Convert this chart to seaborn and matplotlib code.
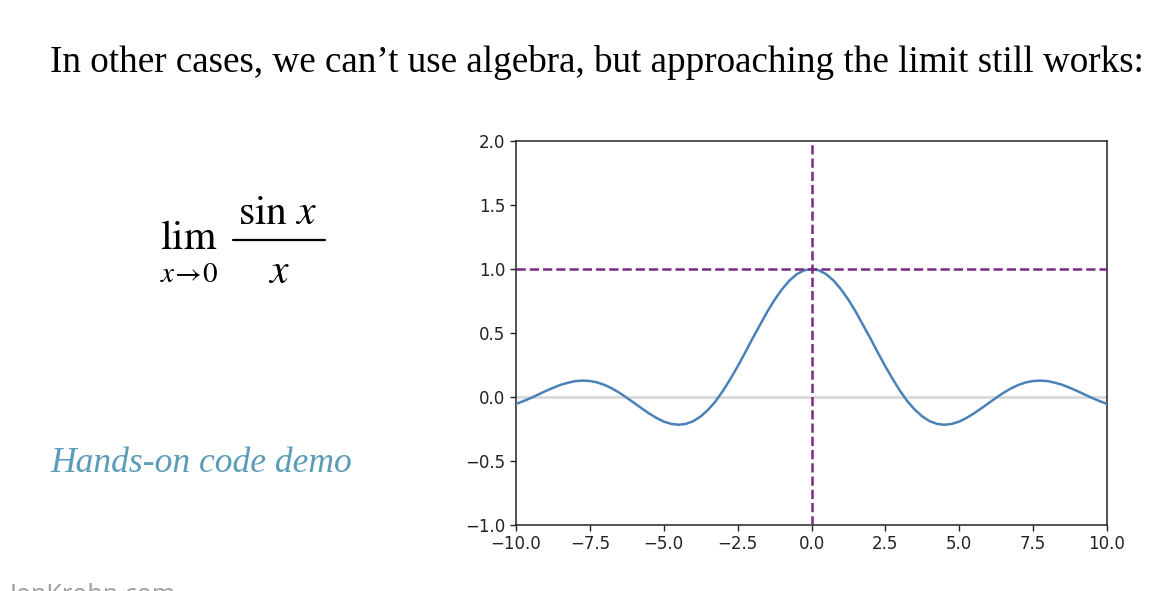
import numpy as np
import pandas as pd
import matplotlib
matplotlib.use("Agg")
import matplotlib.pyplot as plt
import seaborn as sns

x_vals = [-10.0, -9.75, -9.5, -9.25, -9.0, -8.75, -8.5, -8.25, -8.0, -7.75,
          -7.5, -7.25, -7.0, -6.75, -6.5, -6.25, -6.0, -5.75, -5.5, -5.25,
          -5.0, -4.75, -4.5, -4.25, -4.0, -3.75, -3.5, -3.25, -3.0, -2.75,
          -2.5, -2.25, -2.0, -1.75, -1.5, -1.25, -1.0, -0.75, -0.5, -0.25,
          0.0, 0.25, 0.5, 0.75, 1.0, 1.25, 1.5, 1.75, 2.0, 2.25,
          2.5, 2.75, 3.0, 3.25, 3.5, 3.75, 4.0, 4.25, 4.5, 4.75,
          5.0, 5.25, 5.5, 5.75, 6.0, 6.25, 6.5, 6.75, 7.0, 7.25,
          7.5, 7.75, 8.0, 8.25, 8.5, 8.75, 9.0, 9.25, 9.5, 9.75, 10.0]
y_vals = [-0.054, -0.032, -0.008, 0.019, 0.046, 0.071, 0.094, 0.111, 0.124, 0.128,
          0.125, 0.114, 0.094, 0.067, 0.033, -0.006, -0.047, -0.088, -0.128, -0.163,
          -0.192, -0.210, -0.217, -0.210, -0.189, -0.152, -0.100, -0.035, 0.047, 0.139,
          0.239, 0.345, 0.455, 0.560, 0.665, 0.759, 0.841, 0.909, 0.959, 0.990,
          1.000, 0.990, 0.959, 0.909, 0.841, 0.759, 0.665, 0.560, 0.455, 0.345,
          0.239, 0.139, 0.047, -0.035, -0.100, -0.152, -0.189, -0.210, -0.217, -0.210,
          -0.192, -0.163, -0.128, -0.088, -0.047, -0.006, 0.033, 0.067, 0.094, 0.114,
          0.125, 0.128, 0.124, 0.111, 0.094, 0.071, 0.046, 0.019, -0.008, -0.032, -0.054]
x_ticks = [-10.0, -7.5, -5.0, -2.5, 0.0, 2.5, 5.0, 7.5, 10.0]
y_ticks = [-1.0, -0.5, 0.0, 0.5, 1.0, 1.5, 2.0]
limit_x = 0.0
limit_y = 1.0

title = "In other cases, we can\u2019t use algebra, but approaching the limit still works:"
demo_text = "Hands-on code demo"
site_text = "JonKrohn.com"

sns.set_style("ticks")
plt.rcParams['mathtext.fontset'] = 'stix'

df = pd.DataFrame({'x': x_vals, 'y': y_vals})

W, H = 1176, 591
fig = plt.figure(figsize=(W / 100, H / 100), dpi=100)
ax = fig.add_axes([516 / W, 1 - 525 / H, 591 / W, 384 / H])

ax.axhline(y=0, color='#d9d9d9', linewidth=2, zorder=1)
sns.lineplot(data=df, x='x', y='y', ax=ax, color='#4a82b8', linewidth=1.8, zorder=3)
ax.axvline(x=limit_x, color='#7b2a86', linestyle='--', linewidth=1.8, zorder=4)
ax.axhline(y=limit_y, color='#7b2a86', linestyle='--', linewidth=1.8, zorder=4)

ax.set_xlim(-10, 10)
ax.set_ylim(-1, 2)
ax.set_xticks(x_ticks)
ax.set_yticks(y_ticks)
ax.set_xticklabels([f"{t:.1f}".replace('-', '\u2212') for t in x_ticks])
ax.set_yticklabels([f"{t:.1f}".replace('-', '\u2212') for t in y_ticks])
ax.set_xlabel('')
ax.set_ylabel('')
ax.tick_params(axis='both', labelsize=12, length=4, width=1, colors='#222222')
for s in ax.spines.values():
    s.set_visible(True)
    s.set_color('#222222')
    s.set_linewidth(1.1)

# slide title
fig.text(50 / W, 1 - 62 / H, title, fontsize=26.7, family='Liberation Serif',
         va='center', ha='left', color='black')

# the limit, set piece by piece so the fraction is display size
fig.text(189 / W, 1 - 237 / H, r'$\mathrm{lim}$', fontsize=30,
         ha='center', va='center', color='black')
fig.text(189 / W, 1 - 274 / H, r'$x\!\rightarrow\!0$', fontsize=21,
         ha='center', va='center', color='black')
fig.text(278 / W, 1 - 212 / H, r'$\mathrm{sin}\ \mathit{x}$', fontsize=30,
         ha='center', va='center', color='black')
fig.text(279 / W, 1 - 271 / H, r'$\mathit{x}$', fontsize=30,
         ha='center', va='center', color='black')
fig.add_artist(plt.Line2D([233 / W, 325 / W], [1 - 240 / H, 1 - 240 / H],
                          color='black', linewidth=1.6))

fig.text(50 / W, 1 - 463 / H, demo_text, fontsize=25.6, family='Liberation Serif',
         style='italic', va='center', ha='left', color='#5b9db7')
fig.text(10 / W, 1 - 583 / H, site_text, fontsize=18, family='Noto Sans',
         va='top', ha='left', color='#a0a0a0')

fig.savefig('out.png', dpi=100)
